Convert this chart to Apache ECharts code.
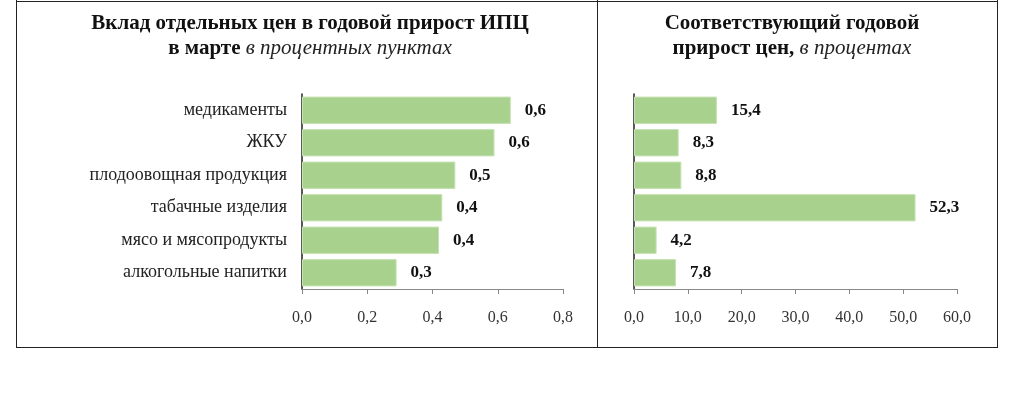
<!DOCTYPE html>
<html><head><meta charset="utf-8">
<script src="https://cdn.jsdelivr.net/npm/echarts@6/dist/echarts.min.js"></script>
<style>html,body{margin:0;padding:0;background:#fff}#c{width:1024px;height:393px}</style>
</head><body><div id="c"></div>
<script>
const categories = ['медикаменты','ЖКУ','плодоовощная продукция','табачные изделия','мясо и мясопродукты','алкогольные напитки'];
const contribution = [0.64, 0.59, 0.47, 0.43, 0.42, 0.29];
const priceGrowth = [15.4, 8.3, 8.8, 52.3, 4.2, 7.8];
const leftTitle1 = 'Вклад отдельных цен в годовой прирост ИПЦ';
const rightTitle1 = 'Соответствующий годовой';

const serif = '"Liberation Serif","Times New Roman",serif';
const fmt = (v, d) => v.toFixed(d).replace('.', ',');
const chart = echarts.init(document.getElementById('c'));
const barColor = '#a9d18e';
const titleStyle = {fontFamily: serif, fontSize: 21, fontWeight: 'bold', color: '#111', lineHeight: 25,
  rich: {b: {fontFamily: serif, fontSize: 21, fontWeight: 'bold', color: '#111'},
         i: {fontFamily: serif, fontSize: 21, fontStyle: 'italic', fontWeight: 'normal', color: '#222'}}};
const tickLabel = {fontFamily: serif, fontSize: 16, color: '#333', margin: 21};
const valueLabel = {show: true, position: 'right', distance: 14, fontFamily: serif, fontSize: 17, fontWeight: 'bold', color: '#111'};
chart.setOption({
  animation: false,
  title: [
    {text: leftTitle1 + '\n{b|в марте }{i|в процентных пунктах}', left: 305, top: 6, textAlign: 'center', textStyle: titleStyle},
    {text: rightTitle1 + '\n{b|прирост цен, }{i|в процентах}', left: 787, top: 6, textAlign: 'center', textStyle: titleStyle}
  ],
  grid: [
    {left: 302, right: 461, top: 94, bottom: 104},
    {left: 634, right: 67, top: 94, bottom: 104}
  ],
  xAxis: [
    {gridIndex: 0, type: 'value', min: 0, max: 0.8, interval: 0.2, splitLine: {show: false},
     axisLine: {show: true, lineStyle: {color: '#888'}}, axisTick: {show: true, length: 5, lineStyle: {color: '#888'}},
     axisLabel: Object.assign({formatter: v => fmt(v, 1)}, tickLabel)},
    {gridIndex: 1, type: 'value', min: 0, max: 60, interval: 10, splitLine: {show: false},
     axisLine: {show: true, lineStyle: {color: '#888'}}, axisTick: {show: true, length: 5, lineStyle: {color: '#888'}},
     axisLabel: Object.assign({formatter: v => fmt(v, 1)}, tickLabel)}
  ],
  yAxis: [
    {gridIndex: 0, type: 'category', data: categories, inverse: true,
     axisLine: {show: true, lineStyle: {color: '#222', width: 1.5}}, axisTick: {show: false},
     axisLabel: {fontFamily: serif, fontSize: 18, color: '#222', margin: 15}},
    {gridIndex: 1, type: 'category', data: categories, inverse: true,
     axisLine: {show: true, lineStyle: {color: '#222', width: 1.5}}, axisTick: {show: false},
     axisLabel: {show: false}}
  ],
  series: [
    {type: 'bar', xAxisIndex: 0, yAxisIndex: 0, data: contribution, barCategoryGap: '16%',
     itemStyle: {color: barColor, borderColor: '#c5e2b1', borderWidth: 1},
     label: Object.assign({formatter: p => fmt(p.value, 1)}, valueLabel)},
    {type: 'bar', xAxisIndex: 1, yAxisIndex: 1, data: priceGrowth, barCategoryGap: '16%',
     itemStyle: {color: barColor, borderColor: '#c5e2b1', borderWidth: 1},
     label: Object.assign({formatter: p => fmt(p.value, 1)}, valueLabel)}
  ],
  graphic: [
    {type: 'line', shape: {x1: 16.5, y1: 0, x2: 16.5, y2: 347}, style: {stroke: '#222', lineWidth: 1}},
    {type: 'line', shape: {x1: 16, y1: 1.5, x2: 998, y2: 1.5}, style: {stroke: '#222', lineWidth: 1}},
    {type: 'line', shape: {x1: 16, y1: 347.5, x2: 998, y2: 347.5}, style: {stroke: '#222', lineWidth: 1}},
    {type: 'line', shape: {x1: 597.5, y1: 0, x2: 597.5, y2: 347}, style: {stroke: '#222', lineWidth: 1}},
    {type: 'line', shape: {x1: 997.5, y1: 0, x2: 997.5, y2: 347}, style: {stroke: '#222', lineWidth: 1}}
  ]
});
</script></body></html>
